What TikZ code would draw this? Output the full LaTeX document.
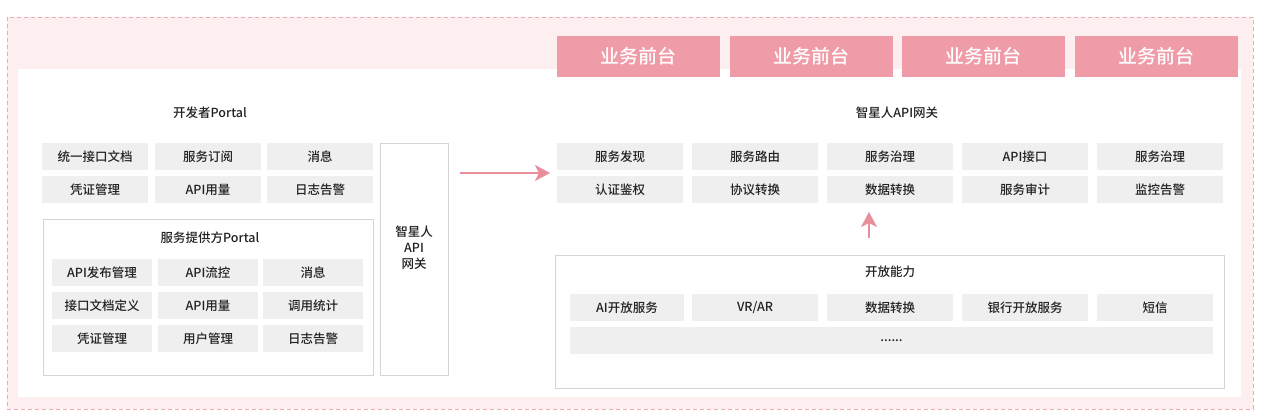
\documentclass[tikz,border=0pt]{standalone}
\usepackage{fontspec}
\setmainfont{Noto Sans CJK SC}[UprightFont=* Medium]
\usetikzlibrary{arrows.meta}
\definecolor{bgpink}{HTML}{FDEEF0}
\definecolor{edgepink}{HTML}{F2A7B3}
\definecolor{headpink}{HTML}{F09CA8}
\definecolor{arrowpink}{HTML}{E98F9C}
\definecolor{cellgray}{HTML}{EFEFEF}
\definecolor{panelgray}{HTML}{D5D5D5}
\definecolor{inkgray}{HTML}{222222}
\begin{document}
\begin{tikzpicture}[x=1pt,y=-1pt, font=\fontsize{12.5}{16}\selectfont, text=inkgray,
  cell/.style={fill=cellgray, inner sep=0pt, minimum height=27pt},
  panel/.style={draw=panelgray, line width=1pt, fill=white, inner sep=0pt},
  head/.style={fill=headpink, text=white, inner sep=0pt, minimum width=163pt, minimum height=41pt, font=\fontsize{19}{22}\selectfont},
  paneltitle/.style={inner sep=0pt},
  flow/.style={draw=arrowpink, line width=1.2pt, -{Stealth[length=15pt,width=16pt,inset=4pt]}}]
\useasboundingbox (0,0) rectangle (1270,420);
% background
\path[fill=bgpink, draw=edgepink, dash pattern=on 4pt off 3pt, line width=0.8pt] (7,17) rectangle (1253,409);
\fill[white] (18,69) rectangle (1241,397);

% business front desks
\node[head] (fd1) at (638.5,56.5) {业务前台};
\node[head] (fd2) at (811,56.5) {业务前台};
\node[head] (fd3) at (983.5,56.5) {业务前台};
\node[head] (fd4) at (1156,56.5) {业务前台};

% developer portal
\node[paneltitle] (devtitle) at (210,113) {开发者Portal};
\node[cell, minimum width=106pt] (d11) at (95,156.5) {统一接口文档};
\node[cell, minimum width=106pt] (d12) at (208,156.5) {服务订阅};
\node[cell, minimum width=106pt] (d13) at (320,156.5) {消息};
\node[cell, minimum width=106pt] (d21) at (95,189.5) {凭证管理};
\node[cell, minimum width=106pt] (d22) at (208,189.5) {API用量};
\node[cell, minimum width=106pt] (d23) at (320,189.5) {日志告警};

% provider portal
\node[panel, minimum width=330pt, minimum height=156pt] (prov) at (208,297) {};
\node[paneltitle] (provtitle) at (210,238) {服务提供方Portal};
\node[cell, minimum width=100pt] (p11) at (102,272.5) {API发布管理};
\node[cell, minimum width=100pt] (p12) at (208,272.5) {API流控};
\node[cell, minimum width=100pt] (p13) at (313,272.5) {消息};
\node[cell, minimum width=100pt] (p21) at (102,305.5) {接口文档定义};
\node[cell, minimum width=100pt] (p22) at (208,305.5) {API用量};
\node[cell, minimum width=100pt] (p23) at (313,305.5) {调用统计};
\node[cell, minimum width=100pt] (p31) at (102,338.5) {凭证管理};
\node[cell, minimum width=100pt] (p32) at (208,338.5) {用户管理};
\node[cell, minimum width=100pt] (p33) at (313,338.5) {日志告警};

% gateway column
\node[panel, minimum width=68pt, minimum height=232pt,
  label={[align=center, yshift=11pt]center:智星人\\API\\网关}] (gw) at (414,259) {};

% gateway functions
\node[paneltitle] (gwtitle) at (897,113) {智星人API网关};
\node[cell, minimum width=126pt] (g11) at (620,156.5) {服务发现};
\node[cell, minimum width=126pt] (g12) at (755,156.5) {服务路由};
\node[cell, minimum width=126pt] (g13) at (890,156.5) {服务治理};
\node[cell, minimum width=126pt] (g14) at (1025,156.5) {API接口};
\node[cell, minimum width=126pt] (g15) at (1160,156.5) {服务治理};
\node[cell, minimum width=126pt] (g21) at (620,189.5) {认证鉴权};
\node[cell, minimum width=126pt] (g22) at (755,189.5) {协议转换};
\node[cell, minimum width=126pt] (g23) at (890,189.5) {数据转换};
\node[cell, minimum width=126pt] (g24) at (1025,189.5) {服务审计};
\node[cell, minimum width=126pt] (g25) at (1160,189.5) {监控告警};

% open capabilities
\node[panel, minimum width=669pt, minimum height=133pt] (open) at (889.5,321.5) {};
\node[paneltitle] (opentitle) at (890,272) {开放能力};
\node[cell, minimum width=114pt] (o11) at (627,307.5) {AI开放服务};
\node[cell, minimum width=126pt] (o12) at (755,307.5) {VR/AR};
\node[cell, minimum width=126pt] (o13) at (890,307.5) {数据转换};
\node[cell, minimum width=126pt] (o14) at (1025,307.5) {银行开放服务};
\node[cell, minimum width=116pt] (o15) at (1155,307.5) {短信};
\node[cell, minimum width=643pt] (o21) at (891.5,340.5) {......};

% connectors
\coordinate (gwin) at (557,173);
\coordinate (upin) at (869,203);
\draw[flow, shorten <=11pt, shorten >=7pt] (gw.east |- gwin) -- (gwin);
\draw[flow, shorten <=17pt, shorten >=9pt] (open.north -| upin) -- (upin);
\end{tikzpicture}
\end{document}
